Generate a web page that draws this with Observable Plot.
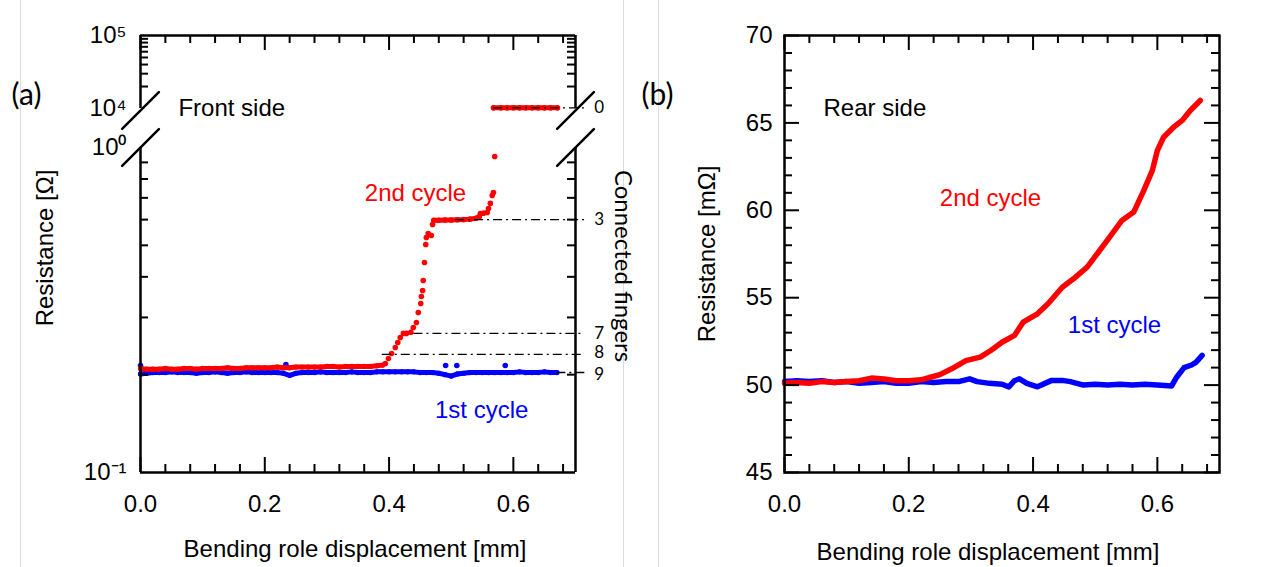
<!DOCTYPE html>
<html><head><meta charset="utf-8">
<script src="https://cdn.jsdelivr.net/npm/d3@7"></script>
<script src="https://cdn.jsdelivr.net/npm/@observablehq/plot@0.6"></script>
<style>
html,body{margin:0;padding:0;background:#fff;}
#wrap{position:relative;width:1261px;height:567px;overflow:hidden;background:#fff;}
#wrap svg{position:absolute;left:0;top:0;}
.sep{position:absolute;top:0;width:1px;height:567px;background:#dcdcdc;}
</style></head><body>
<div id="wrap"><div class="sep" style="left:20px"></div><div class="sep" style="left:623px"></div><div class="sep" style="left:658px"></div></div>
<script>
// ---------- tick values / labels ----------
const xMajorTicks = [0, 0.2, 0.4, 0.6];
const xMinorTicks = [0.04,0.08,0.12,0.16,0.24,0.28,0.32,0.36,0.44,0.48,0.52,0.56,0.64,0.68];
const aLowTicks = [0.1, 1];
const aLowTickLabels = ["10⁻¹", "10⁰"];
const aLowMinor = [0.2,0.3,0.4,0.5,0.6,0.7,0.8,0.9];
const aHighTicks = [1e4, 1e5];
const aHighTickLabels = ["10⁴", "10⁵"];
const aHighMinor = [2e4,3e4,4e4,5e4,6e4,7e4,8e4,9e4];
const bMajorTicks = [45,50,55,60,65,70];
const bMinorTicks = [46,47,48,49,51,52,53,54,56,57,58,59,61,62,63,64,66,67,68,69];

// ---------- panel (a): front side, 1st cycle (blue) ----------
const aBlueX = [0.00,0.01,0.02,0.03,0.04,0.05,0.06,0.07,0.08,0.09,0.10,0.11,0.12,0.13,0.14,0.15,0.16,0.17,0.18,0.19,
  0.20,0.21,0.22,0.23,0.24,0.25,0.26,0.27,0.28,0.29,0.30,0.31,0.32,0.33,0.34,0.35,0.36,0.37,0.38,0.39,
  0.40,0.41,0.42,0.43,0.44,0.45,0.46,0.47,0.48,0.49,0.50,0.51,0.52,0.53,0.54,0.55,0.56,0.57,0.58,0.59,
  0.60,0.61,0.62,0.63,0.64,0.65,0.66,0.67];
const aBlueY = [0.201,0.202,0.203,0.203,0.203,0.204,0.203,0.203,0.203,0.202,0.203,0.203,0.204,0.203,0.202,0.203,0.203,0.204,0.203,0.203,
  0.203,0.203,0.203,0.202,0.199,0.202,0.203,0.203,0.203,0.204,0.203,0.203,0.203,0.203,0.204,0.203,0.203,0.203,0.204,0.204,
  0.204,0.204,0.204,0.204,0.204,0.203,0.203,0.203,0.202,0.200,0.198,0.201,0.202,0.203,0.203,0.203,0.203,0.203,0.203,0.203,
  0.203,0.204,0.203,0.203,0.203,0.204,0.203,0.203];
const aBlueOutX = [0.000, 0.234, 0.491, 0.509, 0.587];
const aBlueOutY = [0.2135, 0.215, 0.2135, 0.2135, 0.2135];

// ---------- panel (a): 2nd cycle (red) ----------
const aRedBandX = [0.00,0.01,0.02,0.03,0.04,0.05,0.06,0.07,0.08,0.09,0.10,0.11,0.12,0.13,0.14,0.15,0.16,0.17,0.18,0.19,
  0.20,0.21,0.22,0.23,0.24,0.25,0.26,0.27,0.28,0.29,0.30,0.31,0.32,0.33,0.34,0.35,0.36,0.37,0.38,0.39];
const aRedBandY = [0.209,0.208,0.208,0.208,0.209,0.208,0.208,0.209,0.209,0.208,0.209,0.209,0.209,0.209,0.210,0.209,0.209,0.210,0.210,0.210,
  0.210,0.210,0.211,0.210,0.210,0.211,0.211,0.211,0.211,0.211,0.212,0.212,0.211,0.212,0.212,0.212,0.212,0.212,0.213,0.214];
const aRedJumpX = [0.394,0.399,0.404,0.410,0.414,0.418,0.423,0.428,0.435,0.439,0.444,0.447,0.451,0.452,0.454,0.455,0.457,0.459,0.460,0.463,0.468,0.470];
const aRedJumpY = [0.2164,0.2243,0.2324,0.2424,0.2512,0.2602,0.2679,0.2679,0.2700,0.2794,0.2893,0.3106,0.3311,0.3479,0.3631,0.3897,0.4428,0.5029,0.5285,0.5436,0.536,0.5796];
const aRedPlateauX = [0.472,0.48,0.49,0.50,0.51,0.52,0.53,0.54,0.545];
const aRedPlateauY = [0.597,0.597,0.598,0.598,0.599,0.600,0.602,0.606,0.612];
const aRedClimbX = [0.547,0.552,0.558,0.560,0.563,0.566,0.568,0.570];
const aRedClimbY = [0.626,0.628,0.631,0.649,0.673,0.712,0.727,0.938];
const aRedOpenX = [0.568,0.58,0.59,0.60,0.61,0.62,0.63,0.64,0.65,0.66,0.671];
const aRedOpenY = [1.02e4,1.02e4,1.02e4,1.02e4,1.02e4,1.02e4,1.02e4,1.02e4,1.02e4,1.02e4,1.02e4];

// connected-finger reference levels
const fingerLabels = ["0", "3", "7", "8", "9"];
const fingerLevels = [1.02e4, 0.600, 0.268, 0.231, 0.203];
const fingerStartX = [0.568, 0.507, 0.440, 0.389, 0.670];

// ---------- panel (b): rear side ----------
const bRedX = [0,0.02,0.04,0.06,0.08,0.10,0.12,0.14,0.16,0.18,0.20,0.22,0.235,0.25,0.269,0.292,0.315,0.332,0.35,0.37,0.384,
  0.407,0.424,0.447,0.465,0.487,0.505,0.519,0.543,0.562,0.578,0.592,0.60,0.61,0.626,0.64,0.653,0.669];
const bRedY = [50.1,50.15,50.1,50.2,50.15,50.2,50.25,50.4,50.35,50.25,50.25,50.3,50.45,50.6,50.93,51.4,51.6,51.98,52.45,52.84,53.6,
  54.08,54.65,55.6,56.08,56.75,57.6,58.27,59.42,59.9,61.13,62.28,63.42,64.18,64.75,65.14,65.71,66.28];
const bBlueX = [0,0.02,0.04,0.06,0.08,0.10,0.12,0.14,0.16,0.18,0.20,0.22,0.24,0.26,0.28,0.298,0.31,0.33,0.35,0.361,0.37,0.378,0.39,
  0.407,0.43,0.447,0.46,0.481,0.50,0.52,0.54,0.56,0.58,0.60,0.623,0.631,0.643,0.655,0.662,0.672];
const bBlueY = [50.2,50.25,50.2,50.25,50.15,50.2,50.1,50.15,50.2,50.1,50.1,50.2,50.15,50.2,50.2,50.36,50.2,50.1,50.05,49.9,50.25,50.36,50.1,
  49.9,50.27,50.27,50.2,50.0,50.05,50.0,50.05,50.0,50.05,50.0,49.95,50.45,51.0,51.15,51.3,51.7];

// ---------- helpers ----------
const W = 1261, H = 567;
const K = "black";
const ARIAL = "'Liberation Sans', Arial, sans-serif";
const CALI = "Lato, 'Open Sans', sans-serif";
const RED = "#ff0000", BLUE = "#0000ff";
const rows = (xs, ys) => xs.map((x, i) => ({x, y: ys[i]}));
const slashShape = {draw(ctx, l) { ctx.moveTo(0, 0); ctx.lineTo(0, -l); }};
const dash = "9,4,2,4";
const st = {background: "transparent", overflow: "visible"};
const C = {textAnchor: "middle", lineAnchor: "middle"};

function xTicks(values, len, side, frameH) {
  const o = {x: d => d, stroke: K, strokeWidth: 2};
  o[side === "bottom" ? "insetTop" : "insetBottom"] = frameH - len;
  return Plot.tickX(values, o);
}
function yTicks(values, len, side, frameW) {
  const o = {y: d => d, stroke: K, strokeWidth: 2};
  o[side === "left" ? "insetRight" : "insetLeft"] = frameW - len;
  return Plot.tickY(values, o);
}

const fingers = fingerLabels.map((t, i) => ({t, level: fingerLevels[i], start: fingerStartX[i], end: 0.715, lx: 0.738}));
const fingerText = {x: "lx", y: "level", text: "t", fontSize: 17, fontFamily: CALI, fill: K};

// frame geometry
const aL = 140, aR = 575, aTop = 35, aBreakHi = 108, aBreakLo = 147, aBot = 472;
const bL = 784, bR = 1219;

// ---------- (a) lower segment : 0.1 .. 1 ohm ----------
const aLow = Plot.plot({
  width: W, height: H, style: st,
  marginLeft: aL, marginRight: W - aR, marginTop: aBreakLo, marginBottom: H - aBot,
  x: {domain: [0, 0.7]},
  y: {type: "log", domain: [0.1, 1]},
  marks: [
    Plot.line(rows(aBlueX, aBlueY), {x: "x", y: "y", stroke: BLUE, strokeWidth: 5}),
    Plot.dot(rows(aBlueX, aBlueY), {x: "x", y: "y", r: 2.6, fill: BLUE}),
    Plot.dot(rows(aBlueOutX, aBlueOutY), {x: "x", y: "y", r: 2.8, fill: BLUE}),
    Plot.line(rows(aRedBandX, aRedBandY), {x: "x", y: "y", stroke: RED, strokeWidth: 5}),
    Plot.dot(rows(aRedBandX, aRedBandY), {x: "x", y: "y", r: 2.6, fill: RED}),
    Plot.dot(rows(aRedJumpX, aRedJumpY), {x: "x", y: "y", r: 2.8, fill: RED}),
    Plot.line(rows(aRedPlateauX, aRedPlateauY), {x: "x", y: "y", stroke: RED, strokeWidth: 5}),
    Plot.dot(rows(aRedPlateauX, aRedPlateauY), {x: "x", y: "y", r: 2.8, fill: RED}),
    Plot.dot(rows(aRedClimbX, aRedClimbY), {x: "x", y: "y", r: 2.8, fill: RED}),
    Plot.ruleY(fingers.slice(1), {y: "level", x1: "start", x2: "end", stroke: K, strokeWidth: 1.4, strokeDasharray: dash}),
    Plot.text(fingers.slice(1, 3), fingerText),
    Plot.text(fingers.slice(3, 4), {...fingerText, dy: -2}),
    Plot.text(fingers.slice(4, 5), {...fingerText, dy: 2}),
    Plot.ruleX([0, 0.7], {x: d => d, stroke: K, strokeWidth: 2.5}),
    Plot.ruleY([0.1], {y: d => d, stroke: K, strokeWidth: 2.5}),
    xTicks(xMajorTicks, 15, "bottom", aBot - aBreakLo),
    xTicks(xMinorTicks, 8, "bottom", aBot - aBreakLo),
    yTicks(aLowMinor, 8, "left", aR - aL),
    yTicks(aLowMinor, 8, "right", aR - aL),
    Plot.vector([0, 0.7], {x: d => d, y: () => 1, length: 52, rotate: 45, anchor: "middle", shape: slashShape, stroke: K, strokeWidth: 2.5}),
    Plot.axisX(xMajorTicks, {tickSize: 0, tickPadding: 22, fontSize: 24, fontFamily: ARIAL, tickFormat: d3.format(".1f"), label: null}),
    Plot.axisY(aLowTicks, {tickSize: 0, tickPadding: 14, fontSize: 24, fontFamily: ARIAL, tickFormat: d => aLowTickLabels[aLowTicks.indexOf(d)], label: null}),
    Plot.text(["2nd cycle"], {x: () => 0.4425, y: () => 0.722, fill: RED, fontSize: 24, fontFamily: ARIAL}),
    Plot.text(["1st cycle"], {x: () => 0.549, y: () => 0.155, fill: BLUE, fontSize: 24, fontFamily: ARIAL}),
    Plot.text(["Bending role displacement [mm]"], {...C, frameAnchor: "bottom", dx: -3, dy: 77, fontSize: 24, fontFamily: ARIAL, fill: K}),
    Plot.text(["Resistance [Ω]"], {...C, frameAnchor: "left", dx: -95, dy: -62, rotate: -90, fontSize: 24, fontFamily: ARIAL, fill: K}),
    Plot.text(["Connected fingers"], {...C, frameAnchor: "right", dx: 47, dy: -44, rotate: 90, fontSize: 24, fontFamily: CALI, fill: K})
  ]
});

// ---------- (a) upper segment : 1e4 .. 1e5 ohm ----------
const aHigh = Plot.plot({
  width: W, height: H, style: st,
  marginLeft: aL, marginRight: W - aR, marginTop: aTop, marginBottom: H - aBreakHi,
  x: {domain: [0, 0.7], axis: null},
  y: {type: "log", domain: [1e4, 1e5]},
  marks: [
    Plot.line(rows(aRedOpenX, aRedOpenY), {x: "x", y: "y", stroke: RED, strokeWidth: 5}),
    Plot.dot(rows(aRedOpenX, aRedOpenY), {x: "x", y: "y", r: 2.8, fill: RED}),
    Plot.ruleY(fingers.slice(0, 1), {y: "level", x1: "start", x2: "end", stroke: K, strokeWidth: 1.4, strokeDasharray: dash}),
    Plot.text(fingers.slice(0, 1), fingerText),
    Plot.ruleX([0, 0.7], {x: d => d, stroke: K, strokeWidth: 2.5}),
    Plot.ruleY([1e5], {y: d => d, stroke: K, strokeWidth: 2.5}),
    xTicks(xMajorTicks, 15, "top", aBreakHi - aTop),
    xTicks(xMinorTicks, 8, "top", aBreakHi - aTop),
    yTicks(aHighMinor, 8, "left", aR - aL),
    yTicks(aHighMinor, 8, "right", aR - aL),
    Plot.vector([0, 0.7], {x: d => d, y: () => 1e4, dy: 2, length: 52, rotate: 45, anchor: "middle", shape: slashShape, stroke: K, strokeWidth: 2.5}),
    Plot.axisY(aHighTicks, {tickSize: 0, tickPadding: 14, fontSize: 24, fontFamily: ARIAL, tickFormat: d => aHighTickLabels[aHighTicks.indexOf(d)], label: null}),
    Plot.text(["Front side"], {x: () => 0.061, y: () => 1e4, textAnchor: "start", fontSize: 24, fontFamily: ARIAL, fill: K}),
    Plot.text(["(a)"], {...C, frameAnchor: "top-left", dx: -114, dy: 60, fontSize: 30, fontFamily: CALI, fill: K})
  ]
});

// ---------- (b) rear side ----------
const bPlot = Plot.plot({
  width: W, height: H, style: st,
  marginLeft: bL, marginRight: W - bR, marginTop: aTop, marginBottom: H - aBot,
  x: {domain: [0, 0.7]},
  y: {domain: [45, 70]},
  marks: [
    Plot.line(rows(bBlueX, bBlueY), {x: "x", y: "y", stroke: BLUE, strokeWidth: 5.5, strokeLinejoin: "round", strokeLinecap: "round"}),
    Plot.line(rows(bRedX, bRedY), {x: "x", y: "y", stroke: RED, strokeWidth: 5.5, strokeLinejoin: "round", strokeLinecap: "round"}),
    Plot.frame({stroke: K, strokeWidth: 2.5}),
    xTicks(xMajorTicks, 15, "bottom", aBot - aTop),
    xTicks(xMinorTicks, 8, "bottom", aBot - aTop),
    xTicks(xMajorTicks, 15, "top", aBot - aTop),
    xTicks(xMinorTicks, 8, "top", aBot - aTop),
    yTicks(bMajorTicks, 15, "left", bR - bL),
    yTicks(bMinorTicks, 8, "left", bR - bL),
    yTicks(bMajorTicks, 15, "right", bR - bL),
    yTicks(bMinorTicks, 8, "right", bR - bL),
    Plot.axisX(xMajorTicks, {tickSize: 0, tickPadding: 22, fontSize: 24, fontFamily: ARIAL, tickFormat: d3.format(".1f"), label: null}),
    Plot.axisY(bMajorTicks, {tickSize: 0, tickPadding: 12, fontSize: 24, fontFamily: ARIAL, label: null}),
    Plot.text(["Rear side"], {x: () => 0.0628, y: () => 65.82, textAnchor: "start", fontSize: 24, fontFamily: ARIAL, fill: K}),
    Plot.text(["2nd cycle"], {x: () => 0.3315, y: () => 60.68, fill: RED, fontSize: 24, fontFamily: ARIAL}),
    Plot.text(["1st cycle"], {x: () => 0.531, y: () => 53.41, fill: BLUE, fontSize: 24, fontFamily: ARIAL}),
    Plot.text(["Bending role displacement [mm]"], {...C, frameAnchor: "bottom", dx: -14, dy: 80, fontSize: 24, fontFamily: ARIAL, fill: K}),
    Plot.text(["Resistance [mΩ]"], {...C, frameAnchor: "left", dx: -77, rotate: -90, fontSize: 24, fontFamily: ARIAL, fill: K}),
    Plot.text(["(b)"], {...C, frameAnchor: "top-left", dx: -127, dy: 60, fontSize: 30, fontFamily: CALI, fill: K})
  ]
});

const wrap = document.getElementById("wrap");
wrap.appendChild(aLow);
wrap.appendChild(aHigh);
wrap.appendChild(bPlot);
</script>
</body></html>
